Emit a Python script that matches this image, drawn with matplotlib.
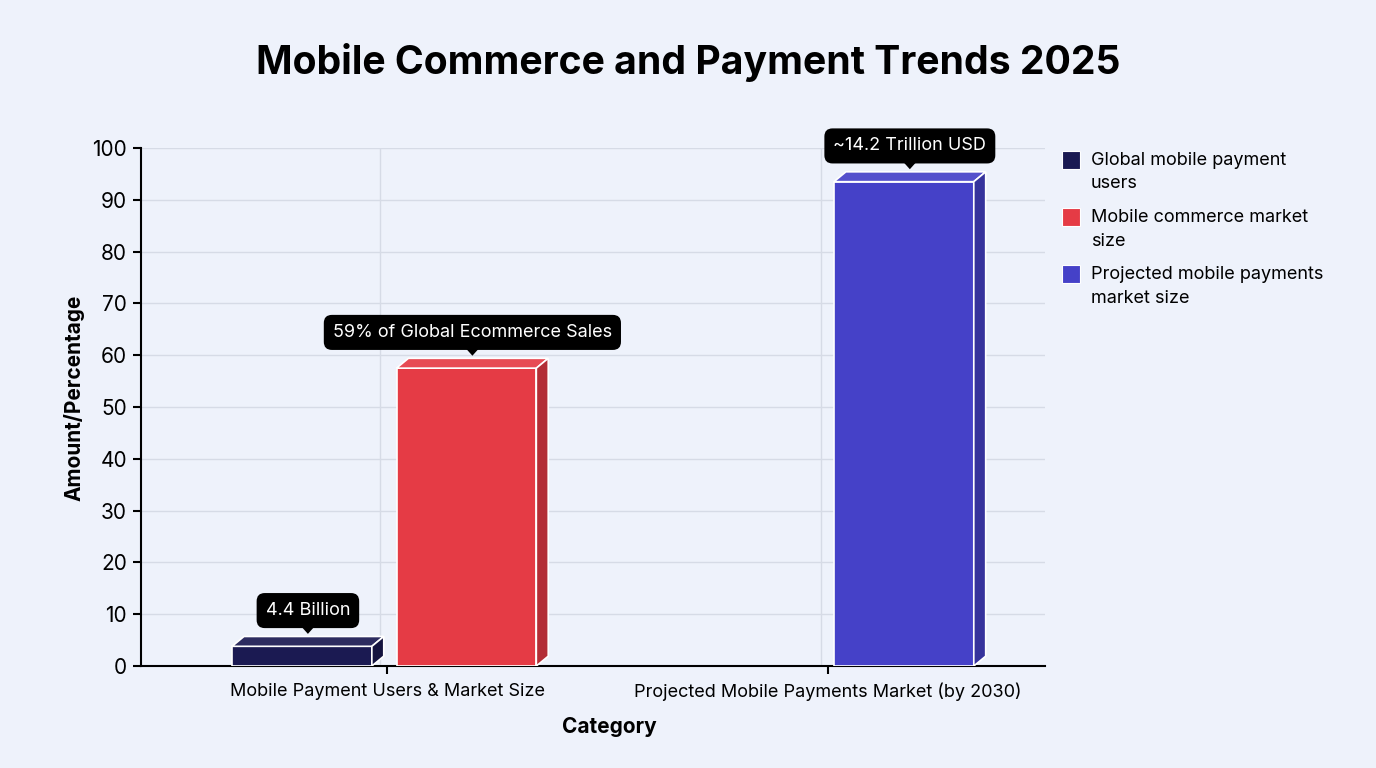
import numpy as np
import matplotlib.pyplot as plt
from matplotlib.patches import Polygon, Rectangle
import matplotlib.colors as mcolors

plt.rcParams['font.family'] = ['Inter', 'DejaVu Sans']

# data
categories = ['Mobile Payment Users & Market Size', 'Projected Mobile Payments Market (by 2030)']
series = ['Global mobile payment\nusers', 'Mobile commerce market\nsize', 'Projected mobile payments\nmarket size']
bar_group = [0, 0, 1]
bar_offset = [-0.193, 0.18, 0.172]
values = [3.8, 57.5, 93.5]
labels = ['4.4 Billion', '59% of Global Ecommerce Sales', '~14.2 Trillion USD']
colors = ['#1b1a52', '#e53b45', '#4541c8']

bg = '#eef2fb'
fig = plt.figure(figsize=(13.76, 7.68), dpi=100, facecolor=bg)
ax = fig.add_axes([141/1376, 1 - 666/768, (1045-141)/1376, (666-148)/768])
ax.set_facecolor(bg)

width = 0.317
dx, dy = 0.027, 1.9

def shade(c, f):
    r, g, b = mcolors.to_rgb(c)
    if f < 1:
        return (r*f, g*f, b*f)
    return (r + (1-r)*(f-1), g + (1-g)*(f-1), b + (1-b)*(f-1))

for g, off, v, c, lab in zip(bar_group, bar_offset, values, colors, labels):
    x0 = g + off - width/2
    x1 = g + off + width/2
    ax.bar(g + off, v, width=width, color=c, edgecolor='white', linewidth=1.2, zorder=3)
    top = Polygon([(x0, v), (x0+dx, v+dy), (x1+dx, v+dy), (x1, v)], closed=True,
                  facecolor=shade(c, 1.08), edgecolor='white', linewidth=1.2, zorder=3)
    side = Polygon([(x1, v), (x1+dx, v+dy), (x1+dx, dy), (x1, 0)], closed=True,
                   facecolor=shade(c, 0.78), edgecolor='white', linewidth=1.2, zorder=3)
    ax.add_patch(top)
    ax.add_patch(side)
    # tooltip-like label with pointer
    cx = g + off + dx/2
    base = v + dy
    ax.add_patch(Polygon([(cx - 0.019, base + 2.3), (cx + 0.019, base + 2.3), (cx, base + 0.5)],
                         closed=True, facecolor='black', edgecolor='none', zorder=5, clip_on=False))
    ax.text(cx, base + 5.0, lab, ha='center', va='center', color='white', fontsize=13,
            zorder=6, clip_on=False,
            bbox=dict(boxstyle='round,pad=0.5,rounding_size=0.45', facecolor='black', edgecolor='none'))

ax.set_xlim(-0.558, 1.492)
ax.set_ylim(0, 100)
ax.set_xticks([0, 1])
ax.set_xticklabels(categories, fontsize=13)
ax.set_yticks(np.arange(0, 101, 10))
ax.tick_params(axis='y', labelsize=15, length=6, width=1.5, pad=4)
ax.tick_params(axis='x', length=6, width=1.5, pad=6)
ax.grid(True, axis='y', color='#d6dbe6', linewidth=1, zorder=0)
# vertical grid sits a little left of the category ticks, as in the original
for g in range(len(categories)):
    ax.axvline(g - 0.015, color='#d6dbe6', linewidth=1, zorder=0)
ax.set_axisbelow(True)
for s in ['top', 'right']:
    ax.spines[s].set_visible(False)
for s in ['left', 'bottom']:
    ax.spines[s].set_linewidth(1.5)
ax.set_xlabel('Category', fontsize=15, fontweight='bold')
ax.xaxis.set_label_coords(0.518, -0.098)
ax.set_ylabel('Amount/Percentage', fontsize=15, fontweight='bold')
ax.yaxis.set_label_coords(-0.062, 0.517)

fig.text(0.5, 1 - 62/768, 'Mobile Commerce and Payment Trends 2025', ha='center', va='center',
         fontsize=28.2, fontweight='bold')

# legend drawn by hand so the swatch lines up with the first text line
for i, (c, s) in enumerate(zip(colors, series)):
    ytop = 151 + i * 57
    fig.patches.append(Rectangle((1062/1376, 1 - (ytop + 18)/768), 18/1376, 18/768,
                                 facecolor=c, edgecolor='white', linewidth=0.8,
                                 transform=fig.transFigure, figure=fig))
    fig.text(1091/1376, 1 - (ytop + 1)/768, s, ha='left', va='top', fontsize=13,
             linespacing=1.5)

fig.savefig('out.png', dpi=100, facecolor=bg)
